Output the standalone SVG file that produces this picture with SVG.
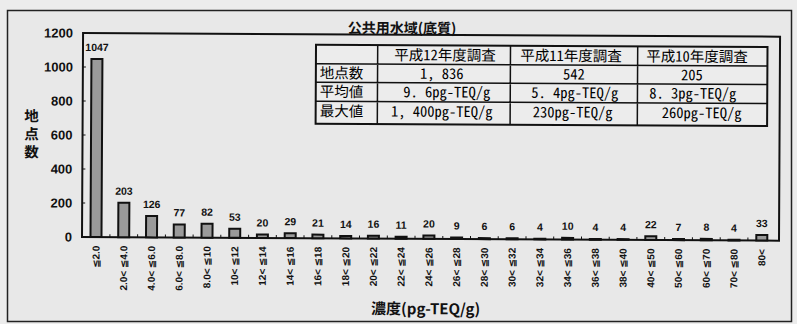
<svg xmlns="http://www.w3.org/2000/svg" width="797" height="324" viewBox="0 0 797 324">
<style>
.frame{fill:#e8e8e8;stroke:#222;stroke-width:1.5}
.ax{fill:none;stroke:#111;stroke-width:2}
.tk{stroke:#111;stroke-width:1}
.bar{fill:#9a9a9a;stroke:#111;stroke-width:2}
.val{font-family:"Liberation Sans",Arial,sans-serif;font-weight:bold;font-size:10.5px;text-anchor:middle;fill:#111}
.ytk{font-family:"Liberation Sans",Arial,sans-serif;font-weight:bold;font-size:13px;text-anchor:end;fill:#111}
.cat{font-family:"Liberation Sans","DejaVu Sans","Noto Sans CJK JP",sans-serif;font-weight:bold;font-size:10px;text-anchor:end;fill:#111}
.ttl{font-family:"Noto Sans CJK JP",sans-serif;font-weight:bold;fill:#111}
.tb{fill:#ececec;stroke:#111;stroke-width:2}
.tl{stroke:#111;stroke-width:1.5}
.tt{font-family:"Noto Sans Mono CJK JP","Noto Sans CJK JP",sans-serif;font-size:14.5px;font-weight:500;fill:#000}
.c{text-anchor:middle}
</style>
<rect x="0" y="0" width="797" height="324" fill="#ececec"/>
<rect class="frame" x="7.5" y="10.5" width="784" height="311"/>
<g id="chart" transform="rotate(0.3 82 237)">
  <text class="ttl" x="401" y="31.5" font-size="14" text-anchor="middle">公共用水域(底質)</text>
  <g id="axes">
    <rect class="ax" x="82" y="33" width="697" height="204"/>
    <path class="tk" d="M82 203h3M82 169h3M82 135h3M82 101h3M82 67h3"/>
    <path class="tk" d="M109.9 237v-3M137.6 237v-3M165.4 237v-3M193.1 237v-3M220.8 237v-3M248.6 237v-3M276.3 237v-3M304 237v-3M331.8 237v-3M359.5 237v-3M387.3 237v-3M415 237v-3M442.8 237v-3M470.5 237v-3M498.2 237v-3M526 237v-3M553.7 237v-3M581.5 237v-3M609.2 237v-3M636.9 237v-3M664.7 237v-3M692.4 237v-3M720.2 237v-3M747.9 237v-3"/>
    <text class="ytk" x="72" y="37.7">1200</text>
    <text class="ytk" x="72" y="71.7">1000</text>
    <text class="ytk" x="72" y="105.7">800</text>
    <text class="ytk" x="72" y="139.7">600</text>
    <text class="ytk" x="72" y="173.7">400</text>
    <text class="ytk" x="72" y="207.7">200</text>
    <text class="ytk" x="72" y="241.7">0</text>
    <g class="ttl" font-size="14.5" text-anchor="middle">
      <text x="31" y="121.5">地</text>
      <text x="31" y="139.5">点</text>
      <text x="31" y="157.5">数</text>
    </g>
    <text class="ttl" x="426" y="312.5" font-size="15" text-anchor="middle">濃度(pg-TEQ/g)</text>
  </g>
  <g id="bars">
    <rect class="bar" x="90.5" y="59" width="11" height="178"/>
    <rect class="bar" x="118.2" y="202.5" width="11" height="34.5"/>
    <rect class="bar" x="146" y="215.6" width="11" height="21.4"/>
    <rect class="bar" x="173.7" y="223.9" width="11" height="13.1"/>
    <rect class="bar" x="201.5" y="223.1" width="11" height="13.9"/>
    <rect class="bar" x="229.2" y="228" width="11" height="9"/>
    <rect class="bar" x="256.9" y="233.6" width="11" height="3.4"/>
    <rect class="bar" x="284.7" y="232.1" width="11" height="4.9"/>
    <rect class="bar" x="312.4" y="233.4" width="11" height="3.6"/>
    <rect class="bar" x="340.2" y="234.6" width="11" height="2.4"/>
    <rect class="bar" x="367.9" y="234.3" width="11" height="2.7"/>
    <rect class="bar" x="395.6" y="235.1" width="11" height="1.9"/>
    <rect class="bar" x="423.4" y="233.6" width="11" height="3.4"/>
    <rect class="bar" x="451.1" y="235.5" width="11" height="1.5"/>
    <rect class="bar" x="478.9" y="236" width="11" height="1"/>
    <rect class="bar" x="506.6" y="236" width="11" height="1"/>
    <rect class="bar" x="534.3" y="236.3" width="11" height="0.7"/>
    <rect class="bar" x="562.1" y="235.3" width="11" height="1.7"/>
    <rect class="bar" x="589.8" y="236.3" width="11" height="0.7"/>
    <rect class="bar" x="617.6" y="236.3" width="11" height="0.7"/>
    <rect class="bar" x="645.3" y="233.3" width="11" height="3.7"/>
    <rect class="bar" x="673" y="235.8" width="11" height="1.2"/>
    <rect class="bar" x="700.8" y="235.6" width="11" height="1.4"/>
    <rect class="bar" x="728.5" y="236.3" width="11" height="0.7"/>
    <rect class="bar" x="756.3" y="231.4" width="11" height="5.6"/>
  </g>
  <g id="values">
    <text class="val" x="96" y="51">1047</text>
    <text class="val" x="123.7" y="194.5">203</text>
    <text class="val" x="151.5" y="207.6">126</text>
    <text class="val" x="179.2" y="215.9">77</text>
    <text class="val" x="207" y="215.1">82</text>
    <text class="val" x="234.7" y="220">53</text>
    <text class="val" x="262.4" y="225.6">20</text>
    <text class="val" x="290.2" y="224.1">29</text>
    <text class="val" x="317.9" y="225.4">21</text>
    <text class="val" x="345.7" y="226.6">14</text>
    <text class="val" x="373.4" y="226.3">16</text>
    <text class="val" x="401.1" y="227.1">11</text>
    <text class="val" x="428.9" y="225.6">20</text>
    <text class="val" x="456.6" y="227.5">9</text>
    <text class="val" x="484.4" y="228">6</text>
    <text class="val" x="512.1" y="228">6</text>
    <text class="val" x="539.8" y="228.3">4</text>
    <text class="val" x="567.6" y="227.3">10</text>
    <text class="val" x="595.3" y="228.3">4</text>
    <text class="val" x="623.1" y="228.3">4</text>
    <text class="val" x="650.8" y="225.3">22</text>
    <text class="val" x="678.5" y="227.8">7</text>
    <text class="val" x="706.3" y="227.6">8</text>
    <text class="val" x="734" y="228.3">4</text>
    <text class="val" x="761.8" y="223.4">33</text>
  </g>
  <g id="categories">
    <text class="cat" transform="translate(99.6 245.5) rotate(-90)">≦2.0</text>
    <text class="cat" transform="translate(127.3 245.5) rotate(-90)">2.0&lt;  ≦4.0</text>
    <text class="cat" transform="translate(155.1 245.5) rotate(-90)">4.0&lt;  ≦6.0</text>
    <text class="cat" transform="translate(182.8 245.5) rotate(-90)">6.0&lt;  ≦8.0</text>
    <text class="cat" transform="translate(210.6 245.5) rotate(-90)">8.0&lt;  ≦10</text>
    <text class="cat" transform="translate(238.3 245.5) rotate(-90)">10&lt;  ≦12</text>
    <text class="cat" transform="translate(266 245.5) rotate(-90)">12&lt;  ≦14</text>
    <text class="cat" transform="translate(293.8 245.5) rotate(-90)">14&lt;  ≦16</text>
    <text class="cat" transform="translate(321.5 245.5) rotate(-90)">16&lt;  ≦18</text>
    <text class="cat" transform="translate(349.3 245.5) rotate(-90)">18&lt;  ≦20</text>
    <text class="cat" transform="translate(377 245.5) rotate(-90)">20&lt;  ≦22</text>
    <text class="cat" transform="translate(404.7 245.5) rotate(-90)">22&lt;  ≦24</text>
    <text class="cat" transform="translate(432.5 245.5) rotate(-90)">24&lt;  ≦26</text>
    <text class="cat" transform="translate(460.2 245.5) rotate(-90)">26&lt;  ≦28</text>
    <text class="cat" transform="translate(488 245.5) rotate(-90)">28&lt;  ≦30</text>
    <text class="cat" transform="translate(515.7 245.5) rotate(-90)">30&lt;  ≦32</text>
    <text class="cat" transform="translate(543.4 245.5) rotate(-90)">32&lt;  ≦34</text>
    <text class="cat" transform="translate(571.2 245.5) rotate(-90)">34&lt;  ≦36</text>
    <text class="cat" transform="translate(598.9 245.5) rotate(-90)">36&lt;  ≦38</text>
    <text class="cat" transform="translate(626.7 245.5) rotate(-90)">38&lt;  ≦40</text>
    <text class="cat" transform="translate(654.4 245.5) rotate(-90)">40&lt;  ≦50</text>
    <text class="cat" transform="translate(682.1 245.5) rotate(-90)">50&lt;  ≦60</text>
    <text class="cat" transform="translate(709.9 245.5) rotate(-90)">60&lt;  ≦70</text>
    <text class="cat" transform="translate(737.6 245.5) rotate(-90)">70&lt;  ≦80</text>
    <text class="cat" transform="translate(765.4 245.5) rotate(-90)">80&lt;</text>
  </g>
  <g id="table">
    <rect class="tb" x="315" y="43.5" width="451.5" height="79"/>
    <path class="tl" d="M315 62.5H766.5M315 81H766.5M315 100H766.5M376.7 43.5V122.5M509.5 43.5V122.5M636.7 43.5V122.5"/>
    <g class="tt">
      <text class="c" x="444" y="58.5">平成12年度調査</text>
      <text class="c" x="570" y="58.5">平成11年度調査</text>
      <text class="c" x="696" y="58.5">平成10年度調査</text>
      <text x="319" y="77">地点数</text>
      <text class="c" x="441" y="77">1, 836</text>
      <text class="c" x="573" y="77">542</text>
      <text class="c" x="691" y="77">205</text>
      <text x="319" y="95.5">平均値</text>
      <text class="c" x="446" y="95.5">9. 6pg-TEQ/g</text>
      <text class="c" x="574" y="95.5">5. 4pg-TEQ/g</text>
      <text class="c" x="692" y="95.5">8. 3pg-TEQ/g</text>
      <text x="319" y="115">最大値</text>
      <text class="c" x="441" y="115">1, 400pg-TEQ/g</text>
      <text class="c" x="572" y="115">230pg-TEQ/g</text>
      <text class="c" x="701" y="115">260pg-TEQ/g</text>
    </g>
  </g>
</g>
</svg>
